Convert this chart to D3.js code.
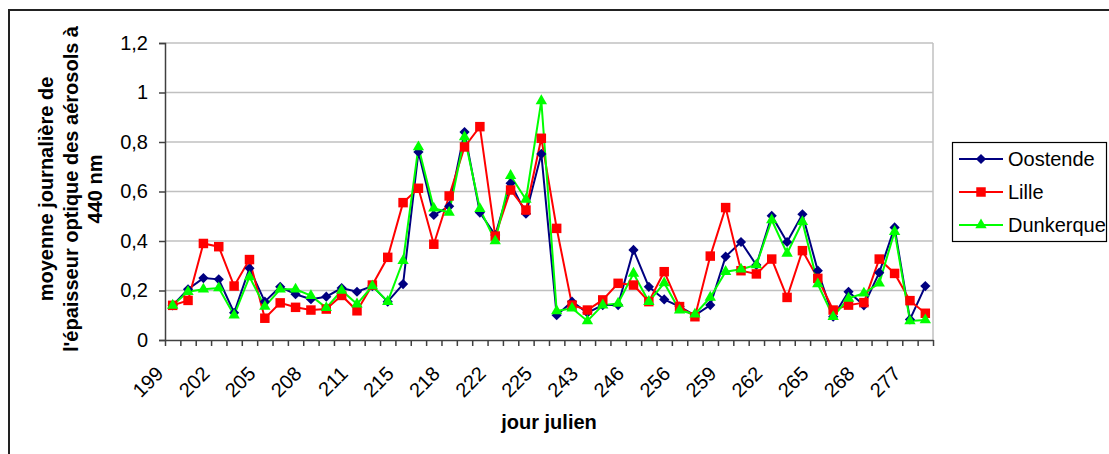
<!DOCTYPE html>
<html>
<head>
<meta charset="utf-8">
<script src="https://cdn.jsdelivr.net/npm/d3@7"></script>
<style>
  body { margin: 0; background: #fff; }
  svg { font-family: "Liberation Sans", Arial, sans-serif; }
</style>
</head>
<body>
<div id="chart"></div>
<script>
// jours juliens (une catégorie par jour de mesure)
var days = [199,200,201,202,203,204,205,206,207,208,209,210,211,213,214,215,216,217,218,220,
            221,222,223,224,225,226,227,243,244,245,246,248,251,256,257,258,259,260,261,262,
            263,264,265,266,267,268,270,274,277,278];

var oostende = [0.14,0.205,0.25,0.245,0.11,0.29,0.155,0.215,0.185,0.165,0.175,0.21,0.195,0.218,0.155,0.226,0.76,0.505,0.54,0.84,
                0.515,0.424,0.633,0.51,0.752,0.10,0.155,0.11,0.141,0.141,0.364,0.215,0.164,0.135,0.10,0.141,0.337,0.396,0.303,0.502,
                0.396,0.508,0.28,0.094,0.195,0.14,0.272,0.455,0.083,0.218];
var lille = [0.14,0.16,0.39,0.377,0.218,0.325,0.088,0.15,0.132,0.121,0.125,0.18,0.118,0.222,0.334,0.555,0.613,0.387,0.582,0.78,
             0.862,0.42,0.606,0.525,0.815,0.451,0.141,0.121,0.162,0.229,0.222,0.155,0.276,0.135,0.094,0.339,0.535,0.28,0.267,0.327,
             0.172,0.361,0.249,0.121,0.141,0.151,0.327,0.269,0.159,0.108];
var dunkerque = [0.14,0.195,0.205,0.21,0.10,0.255,0.135,0.205,0.205,0.179,0.13,0.2,0.145,0.218,0.155,0.32,0.78,0.532,0.515,0.82,
                 0.53,0.40,0.664,0.568,0.966,0.117,0.128,0.077,0.141,0.148,0.269,0.155,0.23,0.12,0.104,0.172,0.276,0.286,0.303,0.485,
                 0.35,0.478,0.226,0.094,0.168,0.189,0.229,0.438,0.077,0.081];

var yTicks = [0, 0.2, 0.4, 0.6, 0.8, 1, 1.2];

var series = [
  {name: "Oostende", values: oostende, color: "#000080", marker: "diamond"},
  {name: "Lille", values: lille, color: "#ff0000", marker: "square"},
  {name: "Dunkerque", values: dunkerque, color: "#00ff00", marker: "triangle"}
];

var W = 1109, H = 454;
var plot = {left: 165, right: 933, top: 43, bottom: 340};

var svg = d3.select("#chart").append("svg")
    .attr("width", W).attr("height", H);

// cadre général
svg.append("rect")
    .attr("x", 9).attr("y", 10)
    .attr("width", 1200).attr("height", 600)
    .attr("fill", "none").attr("stroke", "#222").attr("stroke-width", 2);

var x = d3.scaleBand().domain(days).range([plot.left, plot.right]);
var xc = function(d) { return x(d) + x.bandwidth() / 2; };
var y = d3.scaleLinear().domain([0, 1.2]).range([plot.bottom, plot.top]);

// quadrillage
svg.append("g").selectAll("line")
    .data(yTicks.filter(function(d) { return d > 0; }))
    .enter().append("line")
    .attr("x1", plot.left).attr("x2", plot.right)
    .attr("y1", function(d) { return y(d); }).attr("y2", function(d) { return y(d); })
    .attr("stroke", "#c0c0c0").attr("stroke-width", 1.5);
svg.append("line")
    .attr("x1", plot.right).attr("x2", plot.right)
    .attr("y1", plot.top).attr("y2", plot.bottom)
    .attr("stroke", "#c0c0c0").attr("stroke-width", 1.5);

// axe Y
var fmt = function(d) { return String(d).replace(".", ","); };
var gy = svg.append("g")
    .attr("transform", "translate(" + plot.left + ",0)")
    .call(d3.axisLeft(y).tickValues(yTicks).tickFormat(fmt).tickSize(6).tickPadding(11));
gy.select(".domain").attr("stroke", "#404040").attr("stroke-width", 1.5);
gy.selectAll(".tick line").attr("stroke", "#404040").attr("stroke-width", 1.5);
gy.selectAll("text").attr("font-size", 20).attr("fill", "#000")
    .attr("font-family", "Liberation Sans, Arial, sans-serif");

// axe X : graduations entre les catégories
var xi = d3.scaleLinear().domain([0, days.length]).range([plot.left, plot.right]);
var gx = svg.append("g")
    .attr("transform", "translate(0," + plot.bottom + ")")
    .call(d3.axisBottom(xi).tickValues(d3.range(days.length + 1)).tickFormat("").tickSize(6).tickSizeOuter(0));
gx.select(".domain").attr("stroke", "#404040").attr("stroke-width", 1.5);
gx.selectAll(".tick line").attr("stroke", "#404040").attr("stroke-width", 1.5);

// étiquettes inclinées (une sur trois)
svg.append("g").selectAll("text")
    .data(days.filter(function(d, i) { return i % 3 === 0; }))
    .enter().append("text")
    .attr("transform", function(d) { return "translate(" + (xc(d) - 8) + ",375) rotate(-45)"; })
    .attr("text-anchor", "end")
    .attr("font-size", 20)
    .text(function(d) { return d; });

// titres des axes
svg.append("text")
    .attr("x", (plot.left + plot.right) / 2).attr("y", 429)
    .attr("text-anchor", "middle").attr("font-size", 20).attr("font-weight", "bold")
    .text("jour julien");

var yTitle = ["moyenne journalière de", "l'épaisseur optique des aérosols à", "440 nm"];
svg.append("g").selectAll("text")
    .data(yTitle)
    .enter().append("text")
    .attr("transform", function(d, i) { return "translate(" + (46 + i * 24.5) + ",189) rotate(-90)"; })
    .attr("dy", "0.35em")
    .attr("text-anchor", "middle").attr("font-size", 20).attr("font-weight", "bold")
    .text(function(d) { return d; });

// symboles
function markerPath(type) {
  if (type === "diamond") return d3.symbol(d3.symbolSquare, 52)();
  if (type === "square") return d3.symbol(d3.symbolSquare, 90)();
  return d3.symbol(d3.symbolTriangle, 56)();
}
function markerTransform(type, px, py) {
  return "translate(" + px + "," + py + ")" + (type === "diamond" ? " rotate(45)" : "");
}

var line = d3.line()
    .x(function(d, i) { return xc(days[i]); })
    .y(function(d) { return y(d); });

series.forEach(function(s) {
  svg.append("path")
      .datum(s.values)
      .attr("d", line)
      .attr("fill", "none")
      .attr("stroke", s.color)
      .attr("stroke-width", 2);
});

series.forEach(function(s) {
  svg.append("g").selectAll("path")
      .data(s.values)
      .enter().append("path")
      .attr("d", markerPath(s.marker))
      .attr("transform", function(d, i) { return markerTransform(s.marker, xc(days[i]), y(d)); })
      .attr("fill", s.color);
});

// légende
svg.append("rect")
    .attr("x", 952.5).attr("y", 142.5).attr("width", 154).attr("height", 99)
    .attr("fill", "#fff").attr("stroke", "#000").attr("stroke-width", 1.2);

var leg = svg.append("g").selectAll("g")
    .data(series)
    .enter().append("g")
    .attr("transform", function(d, i) { return "translate(0," + [159, 192, 225][i] + ")"; });
leg.append("line")
    .attr("x1", 959).attr("x2", 1003)
    .attr("stroke", function(d) { return d.color; }).attr("stroke-width", 2);
leg.append("path")
    .attr("d", function(d) { return markerPath(d.marker); })
    .attr("transform", function(d) { return markerTransform(d.marker, 981, 0); })
    .attr("fill", function(d) { return d.color; });
leg.append("text")
    .attr("x", 1008).attr("dy", "0.35em")
    .attr("font-size", 20)
    .text(function(d) { return d.name; });
</script>
</body>
</html>
